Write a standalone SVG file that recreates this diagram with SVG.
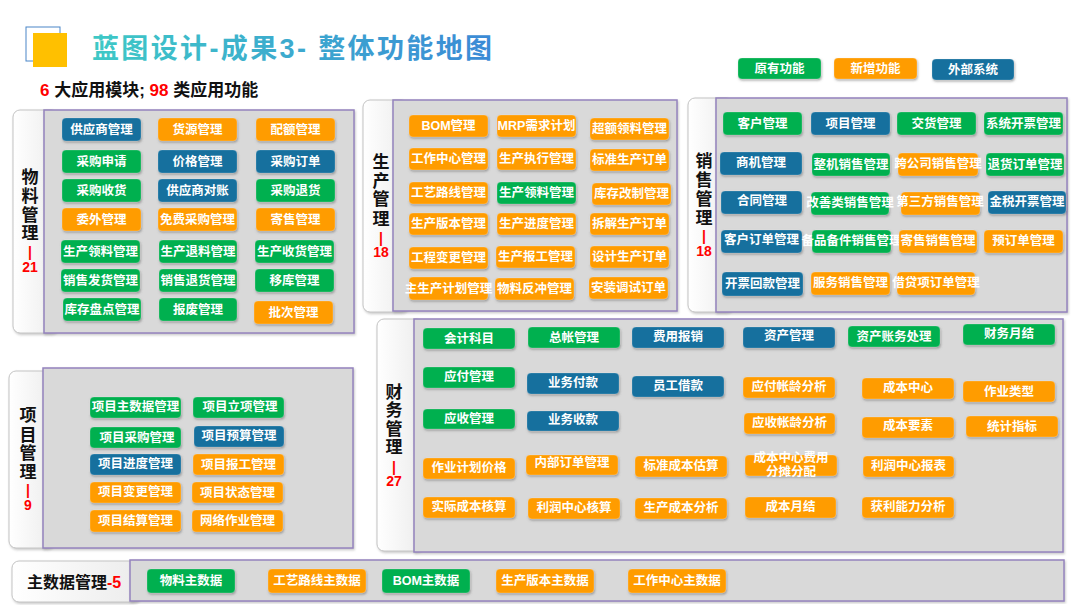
<svg xmlns="http://www.w3.org/2000/svg" width="1080" height="608" viewBox="0 0 1080 608">
<defs>
<linearGradient id="tg" x1="0" y1="0" x2="1" y2="0">
<stop offset="0" stop-color="#3ec9c6"/>
<stop offset="1" stop-color="#3b8ad6"/>
</linearGradient>
<linearGradient id="lg" x1="0" y1="0" x2="1" y2="0">
<stop offset="0" stop-color="#ffffff"/>
<stop offset="1" stop-color="#ececec"/>
</linearGradient>
<filter id="sh" x="-10%" y="-20%" width="130%" height="160%">
<feDropShadow dx="0.8" dy="1.5" stdDeviation="0.9" flood-color="#666" flood-opacity="0.55"/>
</filter>
<filter id="psh" x="-5%" y="-5%" width="110%" height="110%">
<feDropShadow dx="1" dy="1.5" stdDeviation="1.2" flood-color="#888" flood-opacity="0.45"/>
</filter>
</defs>
<style>
.g{fill:#00b050}
.o{fill:#ff9c00}
.b{fill:#146f9e}
rect.g,rect.o,rect.b{filter:url(#sh);stroke:#ffffff;stroke-opacity:0.35;stroke-width:0.6}
.t{font-family:"Liberation Sans","Noto Sans CJK SC",sans-serif;font-size:12.5px;font-weight:700;fill:#fff;text-anchor:middle;dominant-baseline:central}
.pan{fill:#d9d9d9;stroke:#9483bd;stroke-width:1.5;filter:url(#psh)}
.lab{fill:url(#lg);stroke:#c4c4c4;stroke-width:1;filter:url(#psh)}
.lt{font-family:"Liberation Sans","Noto Sans CJK SC",sans-serif;font-size:17px;font-weight:700;fill:#111;text-anchor:middle}
.ln{font-family:"Liberation Sans","Noto Sans CJK SC",sans-serif;font-size:14px;font-weight:700;fill:#ff0000;text-anchor:middle}
</style>
<rect width="1080" height="608" fill="#ffffff"/>

<g id="title">
<rect x="26" y="27" width="34" height="34" fill="none" stroke="#4a86c8" stroke-width="1"/>
<rect x="33" y="33" width="34" height="34" fill="#ffc000"/>
<text x="92" y="58" font-family="'Liberation Sans','Noto Sans CJK SC',sans-serif" font-size="27" font-weight="700" fill="url(#tg)" textLength="400" lengthAdjust="spacing">蓝图设计-成果3- 整体功能地图</text>
<text x="40" y="96" font-family="'Liberation Sans','Noto Sans CJK SC',sans-serif" font-size="17" font-weight="700" fill="#111"><tspan fill="#ff0000">6</tspan> 大应用模块; <tspan fill="#ff0000">98</tspan> 类应用功能</text>
</g>

<g id="legend">
<g id="legend-orig"><rect class="g" x="738" y="58" width="83" height="21" rx="4"/><text class="t" x="779.5" y="68.5">原有功能</text></g>
<g id="legend-new"><rect class="o" x="834" y="58" width="83" height="21" rx="4"/><text class="t" x="875.5" y="68.5">新增功能</text></g>
<g id="legend-ext"><rect class="b" x="932" y="59" width="82" height="21" rx="4"/><text class="t" x="973" y="69.5">外部系统</text></g>
</g>

<g id="connectors"></g>

<!-- 物料管理 -->
<g id="module-material">
<rect class="lab" x="13" y="110" width="45" height="223" rx="7"/>
<rect class="pan" x="44" y="110" width="310" height="223"/>
<text class="lt"><tspan x="30" y="183">物</tspan><tspan x="30" y="202">料</tspan><tspan x="30" y="221">管</tspan><tspan x="30" y="239">理</tspan></text>
<text class="ln"><tspan x="30" y="257">|</tspan><tspan x="30" y="272">21</tspan></text>
<g id="m1"><rect class="b" x="62" y="118" width="79" height="23" rx="4"/><text class="t" x="101.5" y="129.5">供应商管理</text></g>
<g id="m2"><rect class="o" x="158" y="118" width="79" height="23" rx="4"/><text class="t" x="197.5" y="129.5">货源管理</text></g>
<g id="m3"><rect class="o" x="256" y="118" width="79" height="23" rx="4"/><text class="t" x="295.5" y="129.5">配额管理</text></g>
<g id="m4"><rect class="g" x="62" y="150" width="79" height="23" rx="4"/><text class="t" x="101.5" y="161.5">采购申请</text></g>
<g id="m5"><rect class="b" x="158" y="150" width="79" height="23" rx="4"/><text class="t" x="197.5" y="161.5">价格管理</text></g>
<g id="m6"><rect class="b" x="256" y="150" width="79" height="23" rx="4"/><text class="t" x="295.5" y="161.5">采购订单</text></g>
<g id="m7"><rect class="g" x="62" y="179" width="79" height="23" rx="4"/><text class="t" x="101.5" y="190.5">采购收货</text></g>
<g id="m8"><rect class="b" x="158" y="179" width="79" height="23" rx="4"/><text class="t" x="197.5" y="190.5">供应商对账</text></g>
<g id="m9"><rect class="g" x="256" y="179" width="79" height="23" rx="4"/><text class="t" x="295.5" y="190.5">采购退货</text></g>
<g id="m10"><rect class="o" x="62" y="208" width="79" height="23" rx="4"/><text class="t" x="101.5" y="219.5">委外管理</text></g>
<g id="m11"><rect class="o" x="158" y="208" width="79" height="23" rx="4"/><text class="t" x="197.5" y="219.5">免费采购管理</text></g>
<g id="m12"><rect class="o" x="256" y="208" width="79" height="23" rx="4"/><text class="t" x="295.5" y="219.5">寄售管理</text></g>
<g id="m13"><rect class="g" x="61" y="240" width="79" height="23" rx="4"/><text class="t" x="100.5" y="251.5">生产领料管理</text></g>
<g id="m14"><rect class="g" x="159" y="240" width="78" height="23" rx="4"/><text class="t" x="198" y="251.5">生产退料管理</text></g>
<g id="m15"><rect class="g" x="255" y="240" width="79" height="23" rx="4"/><text class="t" x="294.5" y="251.5">生产收货管理</text></g>
<g id="m16"><rect class="g" x="61" y="269" width="79" height="23" rx="4"/><text class="t" x="100.5" y="280.5">销售发货管理</text></g>
<g id="m17"><rect class="g" x="159" y="269" width="78" height="23" rx="4"/><text class="t" x="198" y="280.5">销售退货管理</text></g>
<g id="m18"><rect class="g" x="255" y="269" width="79" height="23" rx="4"/><text class="t" x="294.5" y="280.5">移库管理</text></g>
<g id="m19"><rect class="g" x="63" y="298" width="78" height="23" rx="4"/><text class="t" x="102" y="309.5">库存盘点管理</text></g>
<g id="m20"><rect class="g" x="159" y="298" width="78" height="23" rx="4"/><text class="t" x="198" y="309.5">报废管理</text></g>
<g id="m21"><rect class="o" x="254" y="301" width="79" height="23" rx="4"/><text class="t" x="293.5" y="312.5">批次管理</text></g>
</g>

<!-- 生产管理 -->
<g id="module-production">
<rect class="lab" x="363" y="100" width="45" height="212" rx="7"/>
<rect class="pan" x="393" y="100" width="284" height="211"/>
<text class="lt"><tspan x="381" y="168">生</tspan><tspan x="381" y="187">产</tspan><tspan x="381" y="205">管</tspan><tspan x="381" y="225">理</tspan></text>
<text class="ln"><tspan x="381" y="243">|</tspan><tspan x="381" y="257">18</tspan></text>
<g id="p1"><rect class="o" x="409" y="115" width="79" height="22" rx="4"/><text class="t" x="448.5" y="126">BOM管理</text></g>
<g id="p2"><rect class="o" x="497" y="115" width="79" height="22" rx="4"/><text class="t" x="536.5" y="126">MRP需求计划</text></g>
<g id="p3"><rect class="o" x="590" y="118" width="79" height="22" rx="4"/><text class="t" x="629.5" y="129">超额领料管理</text></g>
<g id="p4"><rect class="o" x="409" y="148" width="79" height="22" rx="4"/><text class="t" x="448.5" y="159">工作中心管理</text></g>
<g id="p5"><rect class="o" x="497" y="148" width="79" height="22" rx="4"/><text class="t" x="536.5" y="159">生产执行管理</text></g>
<g id="p6"><rect class="o" x="590" y="149" width="79" height="22" rx="4"/><text class="t" x="629.5" y="160">标准生产订单</text></g>
<g id="p7"><rect class="o" x="409" y="182" width="79" height="22" rx="4"/><text class="t" x="448.5" y="193">工艺路线管理</text></g>
<g id="p8"><rect class="g" x="497" y="182" width="79" height="22" rx="4"/><text class="t" x="536.5" y="193">生产领料管理</text></g>
<g id="p9"><rect class="o" x="592" y="183" width="79" height="22" rx="4"/><text class="t" x="631.5" y="194">库存改制管理</text></g>
<g id="p10"><rect class="o" x="409" y="213" width="79" height="22" rx="4"/><text class="t" x="448.5" y="224">生产版本管理</text></g>
<g id="p11"><rect class="o" x="497" y="213" width="79" height="22" rx="4"/><text class="t" x="536.5" y="224">生产进度管理</text></g>
<g id="p12"><rect class="o" x="590" y="213" width="79" height="22" rx="4"/><text class="t" x="629.5" y="224">拆解生产订单</text></g>
<g id="p13"><rect class="o" x="409" y="247" width="79" height="22" rx="4"/><text class="t" x="448.5" y="258">工程变更管理</text></g>
<g id="p14"><rect class="o" x="496" y="246" width="79" height="22" rx="4"/><text class="t" x="535.5" y="257">生产报工管理</text></g>
<g id="p15"><rect class="o" x="590" y="246" width="79" height="22" rx="4"/><text class="t" x="629.5" y="257">设计生产订单</text></g>
<g id="p16"><rect class="o" x="409" y="277" width="79" height="23" rx="4"/><text class="t" x="448.5" y="288.5">主生产计划管理</text></g>
<g id="p17"><rect class="o" x="495" y="278" width="79" height="22" rx="4"/><text class="t" x="534.5" y="289">物料反冲管理</text></g>
<g id="p18"><rect class="o" x="589" y="277" width="79" height="22" rx="4"/><text class="t" x="628.5" y="288">安装调试订单</text></g>
</g>

<!-- 销售管理 -->
<g id="module-sales">
<rect class="lab" x="688" y="98" width="45" height="214" rx="7"/>
<rect class="pan" x="716" y="98" width="351" height="214"/>
<text class="lt"><tspan x="704" y="167">销</tspan><tspan x="704" y="186">售</tspan><tspan x="704" y="205">管</tspan><tspan x="704" y="224">理</tspan></text>
<text class="ln"><tspan x="704" y="241">|</tspan><tspan x="704" y="256">18</tspan></text>
<g id="s1"><rect class="g" x="723" y="112" width="79" height="23" rx="4"/><text class="t" x="762.5" y="123.5">客户管理</text></g>
<g id="s2"><rect class="b" x="811" y="112" width="79" height="23" rx="4"/><text class="t" x="850.5" y="123.5">项目管理</text></g>
<g id="s3"><rect class="g" x="897" y="112" width="79" height="23" rx="4"/><text class="t" x="936.5" y="123.5">交货管理</text></g>
<g id="s4"><rect class="g" x="984" y="112" width="79" height="23" rx="4"/><text class="t" x="1023.5" y="123.5">系统开票管理</text></g>
<g id="s5"><rect class="b" x="720" y="152" width="82" height="23" rx="4"/><text class="t" x="761" y="163">商机管理</text></g>
<g id="s6"><rect class="g" x="812" y="153" width="78" height="23" rx="4"/><text class="t" x="851" y="164.5">整机销售管理</text></g>
<g id="s7"><rect class="o" x="898" y="153" width="80" height="23" rx="4"/><text class="t" x="938" y="163.5">跨公司销售管理</text></g>
<g id="s8"><rect class="g" x="986" y="153" width="78" height="23" rx="4"/><text class="t" x="1025" y="164.5">退货订单管理</text></g>
<g id="s9"><rect class="b" x="721" y="191" width="81" height="23" rx="4"/><text class="t" x="762" y="200.5">合同管理</text></g>
<g id="s10"><rect class="g" x="811" y="192" width="78" height="23" rx="4"/><text class="t" x="850" y="203">改善类销售管理</text></g>
<g id="s11"><rect class="o" x="901" y="192" width="79" height="23" rx="4"/><text class="t" x="940" y="202">第三方销售管理</text></g>
<g id="s12"><rect class="b" x="988" y="191" width="78" height="23" rx="4"/><text class="t" x="1027" y="202">金税开票管理</text></g>
<g id="s13"><rect class="b" x="721" y="230" width="81" height="23" rx="4"/><text class="t" x="761.5" y="240">客户订单管理</text></g>
<g id="s14"><rect class="g" x="812" y="230" width="79" height="23" rx="4"/><text class="t" x="851.5" y="241">备品备件销售管理</text></g>
<g id="s15"><rect class="o" x="899" y="230" width="78" height="23" rx="4"/><text class="t" x="938" y="240.5">寄售销售管理</text></g>
<g id="s16"><rect class="o" x="984" y="230" width="79" height="23" rx="4"/><text class="t" x="1023.5" y="241">预订单管理</text></g>
<g id="s17"><rect class="b" x="722" y="272" width="81" height="24" rx="4"/><text class="t" x="762.5" y="284">开票回款管理</text></g>
<g id="s18"><rect class="o" x="811" y="272" width="79" height="23" rx="4"/><text class="t" x="850.5" y="282.5">服务销售管理</text></g>
<g id="s19"><rect class="o" x="897" y="272" width="78" height="23" rx="4"/><text class="t" x="936" y="282.5">借贷项订单管理</text></g>
</g>

<!-- 项目管理 -->
<g id="module-project">
<rect class="lab" x="9" y="371" width="45" height="177" rx="7"/>
<rect class="pan" x="43" y="368" width="310" height="180"/>
<text class="lt"><tspan x="28" y="421">项</tspan><tspan x="28" y="441">目</tspan><tspan x="28" y="459">管</tspan><tspan x="28" y="478">理</tspan></text>
<text class="ln"><tspan x="28" y="495">|</tspan><tspan x="28" y="510">9</tspan></text>
<g id="j1"><rect class="g" x="90" y="397" width="91" height="21" rx="4"/><text class="t" x="135.5" y="407">项目主数据管理</text></g>
<g id="j2"><rect class="g" x="193" y="397" width="91" height="21" rx="4"/><text class="t" x="240" y="407">项目立项管理</text></g>
<g id="j3"><rect class="g" x="90" y="427" width="91" height="21" rx="4"/><text class="t" x="137" y="437.5">项目采购管理</text></g>
<g id="j4"><rect class="b" x="194" y="426" width="90" height="21" rx="4"/><text class="t" x="239" y="436">项目预算管理</text></g>
<g id="j5"><rect class="b" x="90" y="454" width="91" height="21" rx="4"/><text class="t" x="135.5" y="463.5">项目进度管理</text></g>
<g id="j6"><rect class="o" x="193" y="454" width="91" height="21" rx="4"/><text class="t" x="238.5" y="464.5">项目报工管理</text></g>
<g id="j7"><rect class="o" x="90" y="482" width="91" height="21" rx="4"/><text class="t" x="135.5" y="491.5">项目变更管理</text></g>
<g id="j8"><rect class="o" x="192" y="482" width="91" height="21" rx="4"/><text class="t" x="237.5" y="492.5">项目状态管理</text></g>
<g id="j9"><rect class="o" x="90" y="510" width="91" height="22" rx="4"/><text class="t" x="135.5" y="520.5">项目结算管理</text></g>
<g id="j10"><rect class="o" x="192" y="510" width="91" height="22" rx="4"/><text class="t" x="237.5" y="521">网络作业管理</text></g>
</g>

<!-- 财务管理 -->
<g id="module-finance">
<rect class="lab" x="377" y="319" width="46" height="232" rx="7"/>
<rect class="pan" x="414" y="319" width="649" height="233"/>
<text class="lt"><tspan x="394" y="398">财</tspan><tspan x="394" y="416">务</tspan><tspan x="394" y="435">管</tspan><tspan x="394" y="453">理</tspan></text>
<text class="ln"><tspan x="394" y="472">|</tspan><tspan x="394" y="486">27</tspan></text>
<g id="f1"><rect class="g" x="423" y="328" width="92" height="21" rx="4"/><text class="t" x="469" y="338.5">会计科目</text></g>
<g id="f2"><rect class="g" x="528" y="327" width="92" height="21" rx="4"/><text class="t" x="574" y="337.5">总帐管理</text></g>
<g id="f3"><rect class="b" x="632" y="327" width="92" height="21" rx="4"/><text class="t" x="678" y="336.5">费用报销</text></g>
<g id="f4"><rect class="b" x="743" y="327" width="92" height="21" rx="4"/><text class="t" x="789" y="336">资产管理</text></g>
<g id="f5"><rect class="g" x="848" y="326" width="92" height="21" rx="4"/><text class="t" x="894" y="336.5">资产账务处理</text></g>
<g id="f6"><rect class="g" x="963" y="324" width="92" height="21" rx="4"/><text class="t" x="1009" y="334">财务月结</text></g>
<g id="f7"><rect class="g" x="423" y="367" width="92" height="21" rx="4"/><text class="t" x="469" y="377">应付管理</text></g>
<g id="f8"><rect class="b" x="527" y="373" width="92" height="21" rx="4"/><text class="t" x="573" y="382.5">业务付款</text></g>
<g id="f9"><rect class="b" x="632" y="376" width="92" height="21" rx="4"/><text class="t" x="678" y="385.5">员工借款</text></g>
<g id="f10"><rect class="o" x="743" y="377" width="92" height="21" rx="4"/><text class="t" x="789" y="387">应付帐龄分析</text></g>
<g id="f11"><rect class="o" x="862" y="378" width="92" height="21" rx="4"/><text class="t" x="908" y="388">成本中心</text></g>
<g id="f12"><rect class="o" x="963" y="381" width="92" height="21" rx="4"/><text class="t" x="1009" y="391.5">作业类型</text></g>
<g id="f13"><rect class="g" x="423" y="409" width="92" height="20" rx="4"/><text class="t" x="469" y="419">应收管理</text></g>
<g id="f14"><rect class="b" x="527" y="411" width="92" height="20" rx="4"/><text class="t" x="573" y="419.5">业务收款</text></g>
<g id="f15"><rect class="o" x="744" y="413" width="91" height="21" rx="4"/><text class="t" x="789.5" y="423">应收帐龄分析</text></g>
<g id="f16"><rect class="o" x="862" y="417" width="92" height="21" rx="4"/><text class="t" x="908" y="425.5">成本要素</text></g>
<g id="f17"><rect class="o" x="966" y="416" width="92" height="21" rx="4"/><text class="t" x="1012" y="426.5">统计指标</text></g>
<g id="f18"><rect class="o" x="423" y="458" width="92" height="21" rx="4"/><text class="t" x="469" y="468">作业计划价格</text></g>
<g id="f19"><rect class="o" x="526" y="455" width="92" height="20" rx="4"/><text class="t" x="572" y="462.5">内部订单管理</text></g>
<g id="f20"><rect class="o" x="635" y="456" width="92" height="21" rx="4"/><text class="t" x="681" y="465.5">标准成本估算</text></g>
<g id="f21"><rect class="o" x="745" y="455" width="92" height="21" rx="4"/><text class="t" x="791" y="458" font-size="12">成本中心费用</text><text class="t" x="791" y="472" font-size="12">分摊分配</text></g>
<g id="f22"><rect class="o" x="863" y="456" width="91" height="21" rx="4"/><text class="t" x="908.5" y="466">利润中心报表</text></g>
<g id="f23"><rect class="o" x="423" y="497" width="92" height="21" rx="4"/><text class="t" x="469" y="506.5">实际成本核算</text></g>
<g id="f24"><rect class="o" x="528" y="498" width="92" height="21" rx="4"/><text class="t" x="574" y="507.5">利润中心核算</text></g>
<g id="f25"><rect class="o" x="635" y="498" width="92" height="21" rx="4"/><text class="t" x="681" y="507.5">生产成本分析</text></g>
<g id="f26"><rect class="o" x="745" y="497" width="91" height="21" rx="4"/><text class="t" x="790.5" y="507">成本月结</text></g>
<g id="f27"><rect class="o" x="862" y="497" width="92" height="21" rx="4"/><text class="t" x="908" y="506.5">获利能力分析</text></g>
</g>

<!-- 主数据管理 -->
<g id="module-masterdata">
<rect class="lab" x="12" y="561" width="128" height="41" rx="7"/>
<rect class="pan" x="130" y="560" width="934" height="41"/>
<text x="27" y="588" font-family="'Liberation Sans','Noto Sans CJK SC',sans-serif" font-size="16" font-weight="700" fill="#111">主数据管理<tspan fill="#ff0000">-5</tspan></text>
<g id="d1"><rect class="g" x="147" y="569" width="88" height="24" rx="4"/><text class="t" x="191" y="581">物料主数据</text></g>
<g id="d2"><rect class="o" x="268" y="569" width="98" height="24" rx="4"/><text class="t" x="317" y="581">工艺路线主数据</text></g>
<g id="d3"><rect class="g" x="382" y="569" width="88" height="24" rx="4"/><text class="t" x="426" y="581">BOM主数据</text></g>
<g id="d4"><rect class="o" x="496" y="569" width="98" height="24" rx="4"/><text class="t" x="545" y="581">生产版本主数据</text></g>
<g id="d5"><rect class="o" x="628" y="569" width="98" height="24" rx="4"/><text class="t" x="677" y="581">工作中心主数据</text></g>
</g>
</svg>
